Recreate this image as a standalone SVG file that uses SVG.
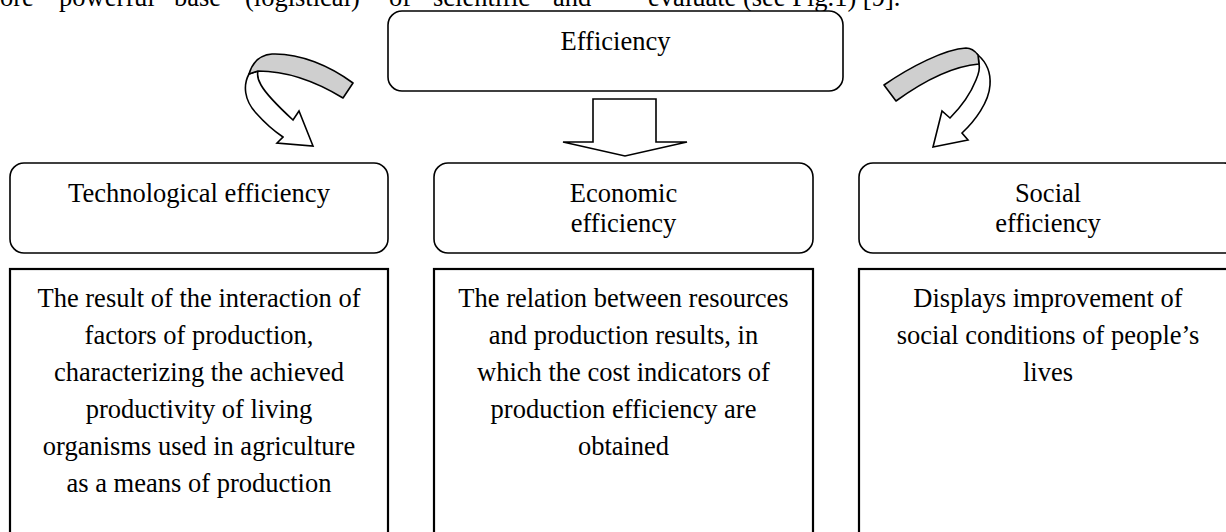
<svg xmlns="http://www.w3.org/2000/svg" width="1226" height="532" viewBox="0 0 1226 532">
<style>
text{font-family:"Liberation Serif","Times New Roman",serif;font-size:26.5px;fill:#000}
.c{text-anchor:middle}
.hdr{fill:#fff;stroke:#000;stroke-width:1.6}
.desc{fill:#fff;stroke:#000;stroke-width:2.2}
.band{fill:#cfcfcf;stroke:#000;stroke-width:1.6;stroke-linejoin:round}
.shaft{fill:#fff;stroke:#000;stroke-width:1.6;stroke-linejoin:miter}
</style>
<rect width="1226" height="532" fill="#fff"/>
<g id="page-text">
<text y="6"><tspan x="0">ore</tspan><tspan x="59">powerful</tspan><tspan x="174">base</tspan><tspan x="245">(logistical)</tspan><tspan x="389">of</tspan><tspan x="433">scientific</tspan><tspan x="553">and</tspan></text>
<text x="648" y="5.5">evaluate (see Fig.1) [9].</text>
</g>
<g id="node-efficiency">
<rect class="hdr" x="388" y="11" width="455" height="80" rx="14"/>
<text class="c" x="615.5" y="50">Efficiency</text>
</g>
<g id="node-technological">
<rect class="hdr" x="10" y="163" width="378" height="90" rx="14"/>
<text class="c" x="199" y="202">Technological efficiency</text>
</g>
<g id="node-economic">
<rect class="hdr" x="434" y="163" width="379" height="90" rx="14"/>
<text class="c" x="623.5" y="202">Economic</text>
<text class="c" x="623.5" y="232">efficiency</text>
</g>
<g id="node-social">
<rect class="hdr" x="859" y="163" width="379" height="90" rx="14"/>
<text class="c" x="1048" y="202">Social</text>
<text class="c" x="1048" y="232">efficiency</text>
</g>
<g id="node-technological-desc">
<rect class="desc" x="10" y="269" width="378" height="280"/>
<text class="c" x="199" y="307">The result of the interaction of</text>
<text class="c" x="199" y="344">factors of production,</text>
<text class="c" x="199" y="381">characterizing the achieved</text>
<text class="c" x="199" y="418">productivity of living</text>
<text class="c" x="199" y="455">organisms used in agriculture</text>
<text class="c" x="199" y="492">as a means of production</text>
</g>
<g id="node-economic-desc">
<rect class="desc" x="434" y="269" width="379" height="280"/>
<text class="c" x="623.5" y="307">The relation between resources</text>
<text class="c" x="623.5" y="344">and production results, in</text>
<text class="c" x="623.5" y="381">which the cost indicators of</text>
<text class="c" x="623.5" y="418">production efficiency are</text>
<text class="c" x="623.5" y="455">obtained</text>
</g>
<g id="node-social-desc">
<rect class="desc" x="859" y="269" width="379" height="280"/>
<text class="c" x="1048" y="307">Displays improvement of</text>
<text class="c" x="1048" y="344">social conditions of people’s</text>
<text class="c" x="1048" y="381">lives</text>
</g>
<g id="connectors">
<path class="shaft" d="M593,99 L656,99 L656,142 L687,142 L625,156 L563,142 L593,142 Z"/>
<g id="arrow-left">
<path class="shaft" d="M249,74 C243,85 244,100 256,113 C264,122 274,131 283,137 L277,143 L313,146 L299,111 L293,120 C280,108 266,94 261,85 C258,80 257,75 258,71 Z"/>
<path class="band" d="M249,74 C252,64 258,55 272,54 C300,53 330,66 353,83 L343,98 C320,84 290,71 258,71 Z"/>
</g>
<g id="arrow-right">
<path class="shaft" d="M978,55 C986,62 991,72 990,85 C989,102 975,121 962,133 L968,140 L933,147 L942,111 L950,118 C960,108 970,95 976,80 C979,73 980,68 979,64 Z"/>
<path class="band" d="M884,85 C910,67 945,49 966,48 C971,48 975,51 978,55 L979,64 C955,66 925,80 896,101 Z"/>
</g>
</g>
</svg>
